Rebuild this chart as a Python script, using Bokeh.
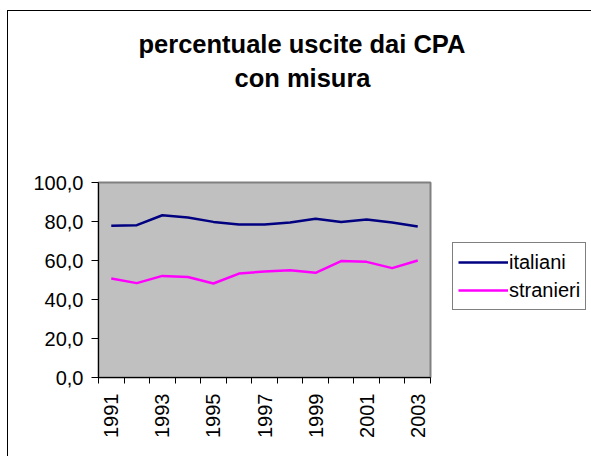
import math
from bokeh.plotting import figure
from bokeh.models import Range1d, FixedTicker, Legend, LegendItem, Title
from bokeh.embed import file_html
from bokeh.resources import INLINE

# ---- data ----
years = [1991, 1992, 1993, 1994, 1995, 1996, 1997, 1998, 1999, 2000, 2001, 2002, 2003]
italiani = [77.8, 78.1, 83.2, 82.0, 79.8, 78.5, 78.5, 79.5, 81.4, 79.8, 81.0, 79.5, 77.4]
stranieri = [50.8, 48.4, 52.1, 51.5, 48.2, 53.3, 54.4, 55.0, 53.7, 59.7, 59.3, 56.1, 60.0]
series_names = ["italiani", "stranieri"]
y_ticks = [0, 20, 40, 60, 80, 100]
y_tick_labels = ["0,0", "20,0", "40,0", "60,0", "80,0", "100,0"]
x_label_years = [1991, 1993, 1995, 1997, 1999, 2001, 2003]
x_tick_labels = ["1991", "1993", "1995", "1997", "1999", "2001", "2003"]
title_lines = ["percentuale uscite dai CPA", "con misura"]

FONT = "Liberation Sans"

p = figure(frame_width=332, frame_height=195, output_backend="svg", toolbar_location=None,
           x_range=Range1d(years[0] - 0.5, years[-1] + 0.5),
           y_range=Range1d(0, 100),
           min_border_left=90, min_border_right=161,
           min_border_top=171, min_border_bottom=79)
p.styles = {"margin-left": "7px", "margin-top": "10px",
            "border-left": "1px solid black", "border-top": "1px solid black"}

p.background_fill_color = "#C0C0C0"
p.border_fill_color = "white"
p.outline_line_color = "#808080"
p.outline_line_width = 2
p.xgrid.visible = False
p.ygrid.visible = False

# y axis
p.yaxis.ticker = FixedTicker(ticks=y_ticks)
p.yaxis.major_label_overrides = {t: l for t, l in zip(y_ticks, y_tick_labels)}
p.yaxis.major_tick_out = 7
p.yaxis.major_tick_in = 0
p.yaxis.minor_tick_line_color = None
p.yaxis.major_label_standoff = 8
p.yaxis.axis_line_color = "black"
p.yaxis.major_label_text_font = FONT
p.yaxis.major_label_text_font_size = "20px"
p.yaxis.major_label_text_color = "black"

# x axis
boundaries = [y - 0.5 for y in years] + [years[-1] + 0.5]
p.xaxis.ticker = FixedTicker(ticks=x_label_years, minor_ticks=boundaries)
p.xaxis.major_label_overrides = {t: l for t, l in zip(x_label_years, x_tick_labels)}
p.xaxis.major_tick_line_color = None
p.xaxis.major_tick_out = 6
p.xaxis.major_tick_in = 0
p.xaxis.minor_tick_out = 6
p.xaxis.minor_tick_in = 0
p.xaxis.minor_tick_line_color = "black"
p.xaxis.major_label_standoff = 10
p.xaxis.major_label_orientation = math.pi / 2
p.xaxis.axis_line_color = "black"
p.xaxis.major_label_text_font = FONT
p.xaxis.major_label_text_font_size = "20px"
p.xaxis.major_label_text_color = "black"

r1 = p.line(years, italiani, line_color="#000080", line_width=2.5)
r2 = p.line(years, stranieri, line_color="#FF00FF", line_width=2.5)

legend = Legend(items=[LegendItem(label=series_names[0], renderers=[r1]),
                       LegendItem(label=series_names[1], renderers=[r2])],
                location=(22, 67))
legend.border_line_color = "black"
legend.border_line_width = 1
legend.background_fill_color = "white"
legend.background_fill_alpha = 1
legend.label_text_font = FONT
legend.label_text_font_size = "20px"
legend.label_text_color = "black"
legend.glyph_width = 50
legend.glyph_height = 28
legend.label_height = 28
legend.spacing = 0
legend.padding = 5
legend.margin = 0
legend.label_standoff = 1
p.add_layout(legend, "right")

# spacer between frame and title lines
p.add_layout(Title(text=" ", text_font_size="1px", standoff=88), "above")
p.add_layout(Title(text=title_lines[1], align="left", offset=136,
                   text_font=FONT, text_font_size="25.5px", text_font_style="bold",
                   text_color="black", standoff=0), "above")
p.add_layout(Title(text=title_lines[0], align="left", offset=40,
                   text_font=FONT, text_font_size="25.5px", text_font_style="bold",
                   text_color="black", standoff=7), "above")

open("out.html", "w").write(file_html(p, INLINE))
